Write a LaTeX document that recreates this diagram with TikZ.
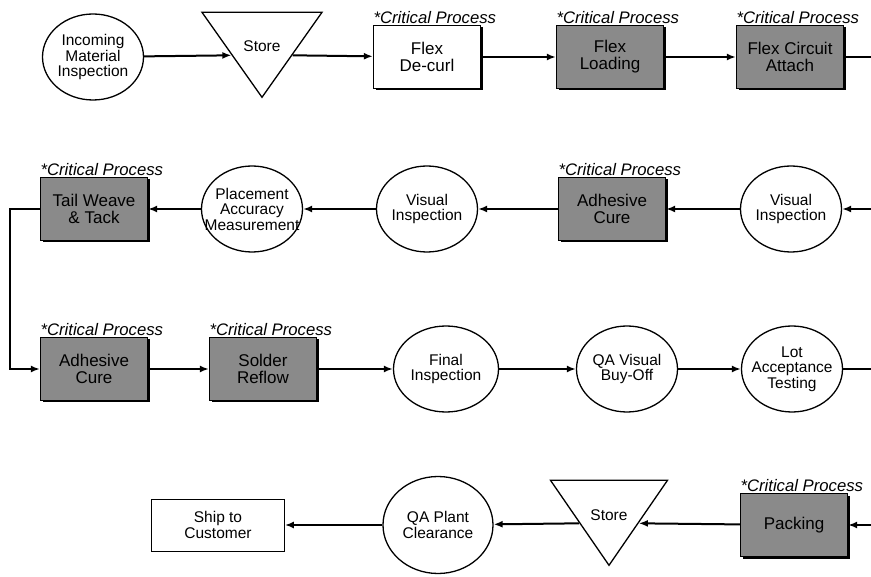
\documentclass[tikz,border=0pt]{standalone}
\usepackage{fontspec}
\setmainfont{Liberation Sans}
\usetikzlibrary{arrows.meta,positioning,shapes.geometric,shadows}
\definecolor{procgray}{HTML}{8A8A8A}

\begin{document}
\begin{tikzpicture}[x=1pt,y=-1pt,>=Latex,font=\fontsize{15.5}{15.5}\selectfont]

\tikzset{
insp/.style={
    draw,
    ellipse,
    line width=1.3pt,
    minimum width=101pt,
    minimum height=86pt,
    inner xsep=-12pt,
    inner ysep=0pt,
    align=center
},
proc/.style={
    draw,
    line width=1.3pt,
    fill=white,
    minimum width=107pt,
    minimum height=63pt,
    inner sep=0pt,
    align=center,
    font=\fontsize{17}{17}\selectfont,
    drop shadow={shadow xshift=2pt,shadow yshift=-2pt,opacity=1,fill=black}
},
crit/.style={
    label={[anchor=south west,inner sep=0.5pt,font=\fontsize{16.7}{16.7}\selectfont\itshape]north west:*Critical Process}
},
shade/.style={fill=procgray},
hold/.style={
    draw,
    line width=1.3pt,
    isosceles triangle,
    isosceles triangle stretches,
    shape border rotate=-90,
    minimum width=120pt,
    minimum height=85pt,
    inner sep=0pt,
    anchor=apex,
    label={[anchor=north,yshift=-26pt]north:Store}
},
a/.style={-{Latex[length=9pt,width=7pt]},line width=2pt}
}

\useasboundingbox (0,0) rectangle (871,577);

% row 1
\node[insp] (incoming) at (93,57) {Incoming\\Material\\Inspection};
\node[hold] (store1) at (262,99) {};
\node[proc,crit] (decurl) at (427,57) {Flex\\De-curl};
\node[proc,crit,shade] (loading) at (610,57) {Flex\\Loading};
\node[proc,crit,shade] (attach) at (790,57) {Flex Circuit\\Attach};
\coordinate (out1) at (871,57);

% row 2
\node[proc,crit,shade] (tail) at (94,209) {Tail Weave\\\& Tack};
\node[insp] (placement) at (252,209) {Placement\\Accuracy\\Measurement};
\node[insp] (visual1) at (427,209) {Visual\\Inspection};
\node[proc,crit,shade] (cure1) at (612,209) {Adhesive\\Cure};
\node[insp] (visual2) at (791,209) {Visual\\Inspection};
\coordinate (in2) at (871,209);
\coordinate (bend) at (10,209);

% row 3
\node[proc,crit,shade] (cure2) at (94,369) {Adhesive\\Cure};
\node[proc,crit,shade] (reflow) at (263,369) {Solder\\Reflow};
\node[insp,minimum width=105pt] (final) at (446,369) {Final\\Inspection};
\node[insp] (buyoff) at (627,369) {QA Visual\\Buy-Off};
\node[insp] (lot) at (792,369) {Lot\\Acceptance\\Testing};
\coordinate (out3) at (871,369);

% row 4
\node[draw,line width=0.8pt,minimum width=133pt,minimum height=52pt,align=center] (ship) at (218,525) {Ship to\\Customer};
\node[insp,minimum width=110pt,minimum height=97pt] (clearance) at (438,525) {QA Plant\\Clearance};
\node[hold,minimum width=117pt] (store2) at (609,567) {};
\node[proc,crit,shade] (packing) at (794,525) {Packing};
\coordinate (in4) at (871,525);

\draw[a] (incoming) -- (store1.right side);
\draw[a] (store1.left side) -- (decurl);
\draw[a] (decurl) -- (loading);
\draw[a] (loading) -- (attach);
\draw[line width=2pt] (attach) -- (out1);

\draw[a] (in2) -- (visual2);
\draw[a] (visual2) -- (cure1);
\draw[a] (cure1) -- (visual1);
\draw[a] (visual1) -- (placement);
\draw[a] (placement) -- (tail);
\draw[a] (tail.west) -- (bend) |- (cure2.west);

\draw[a] (cure2) -- (reflow);
\draw[a] (reflow) -- (final);
\draw[a] (final) -- (buyoff);
\draw[a] (buyoff) -- (lot);
\draw[line width=2pt] (lot) -- (out3);

\draw[a] (in4) -- (packing);
\draw[a] (packing) -- (store2.left side);
\draw[a] (store2.right side) -- (clearance);
\draw[a] (clearance) -- (ship);

\end{tikzpicture}
\end{document}
